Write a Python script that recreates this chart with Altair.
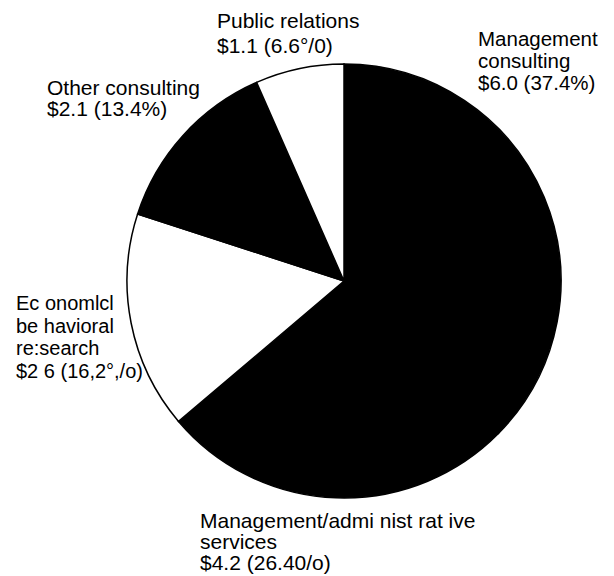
import altair as alt
import pandas as pd

# ---- data ----
categories = [
    "Management consulting",
    "Management/administrative services",
    "Economic/behavioral research",
    "Other consulting",
    "Public relations",
]
amounts = [6.0, 4.2, 2.6, 2.1, 1.1]          # $ billions
percents = [37.4, 26.4, 16.2, 13.4, 6.6]

# label text as printed in the source figure
label_lines = {
    "Management consulting": ["Management", "consulting", "$6.0 (37.4%)"],
    "Management/administrative services": ["Management/admi nist rat ive", "services", "$4.2 (26.40/o)"],
    "Economic/behavioral research": ["Ec onomlcl", "be havioral", "re:search", "$2 6 (16,2°,/o)"],
    "Other consulting": ["Other consulting", "$2.1 (13.4%)"],
    "Public relations": ["Public  relations", "$1.1 (6.6°/0)"],
}

# ---- style / layout ----
fill_colors = ["#000000", "#000000", "#ffffff", "#000000", "#ffffff"]
W, H = 598, 567
CX, CY, R = 336, 273, 217
# x, first baseline y, line height, font size
label_pos = {
    "Management consulting": (470, 38, 22, 20.5),
    "Management/administrative services": (192, 520, 21, 21),
    "Economic/behavioral research": (8, 302, 22.5, 20),
    "Other consulting": (39, 87, 21, 21),
    "Public relations": (209, 20, 25, 21),
}

df = pd.DataFrame({
    "category": categories,
    "amount": amounts,
    "percent": percents,
    "order": list(range(len(categories))),
})

pie = alt.Chart(df).mark_arc(
    outerRadius=R, stroke="#000000", strokeWidth=1.5
).encode(
    theta=alt.Theta("percent:Q", stack=True),
    order=alt.Order("order:Q", sort="ascending"),
    color=alt.Color(
        "category:N",
        scale=alt.Scale(domain=categories, range=fill_colors),
        legend=None,
    ),
    x=alt.value(CX),
    y=alt.value(CY),
)

layers = [pie]
for cat in categories:
    lx, ly, lh, fs = label_pos[cat]
    t = alt.Chart(df[df["category"] == cat]).mark_text(
        text=label_lines[cat],
        align="left",
        baseline="alphabetic",
        font="Liberation Sans",
        fontSize=fs,
        lineHeight=lh,
        color="#000000",
    ).encode(x=alt.value(lx), y=alt.value(ly))
    layers.append(t)

chart = alt.layer(*layers).properties(
    width=W, height=H, autosize="none", padding=0, background="#ffffff"
).configure_view(strokeWidth=0)

chart.save("out.html", embed_options={"renderer": "svg", "actions": False})
